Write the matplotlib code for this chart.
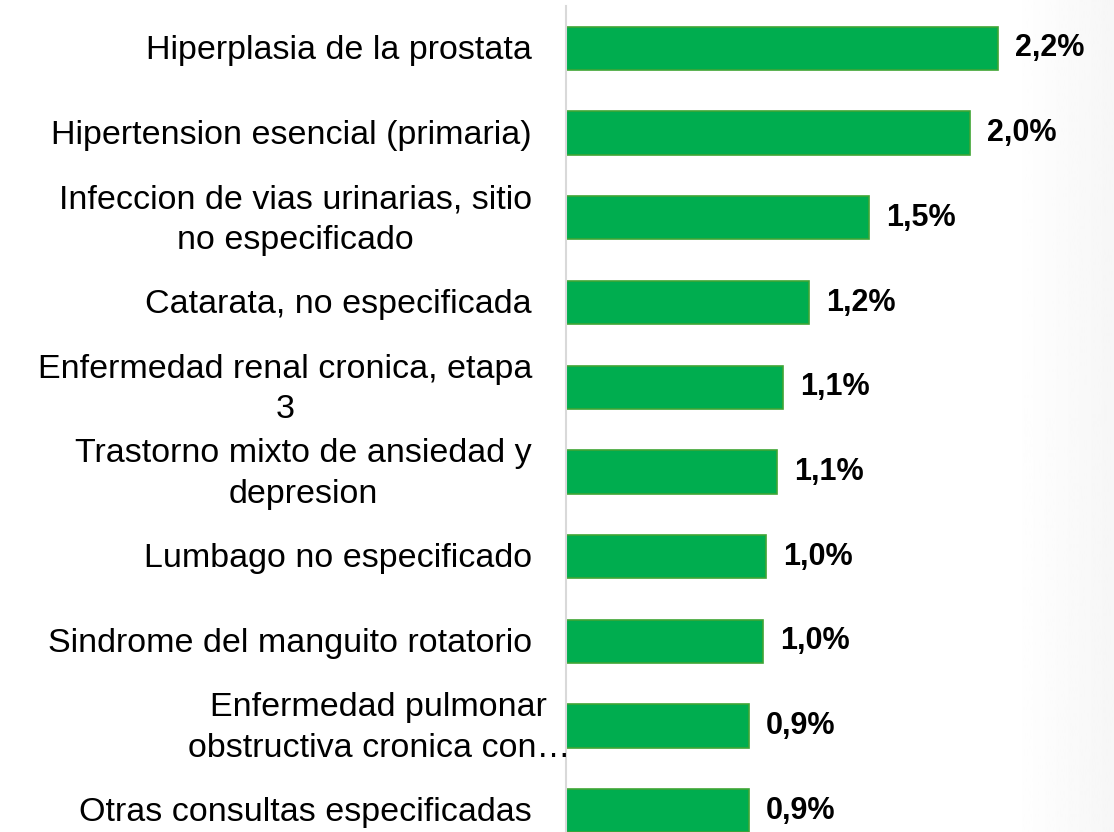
import numpy as np
import matplotlib.pyplot as plt
from matplotlib.transforms import offset_copy

plt.rcParams['font.family'] = ['Liberation Sans', 'DejaVu Sans']

categories = [
    'Hiperplasia de la prostata',
    'Hipertension esencial (primaria)',
    'Infeccion de vias urinarias, sitio\nno especificado',
    'Catarata, no especificada',
    'Enfermedad renal cronica, etapa\n3',
    'Trastorno mixto de ansiedad y\ndepresion',
    'Lumbago no especificado',
    'Sindrome del manguito rotatorio',
    'Enfermedad pulmonar\nobstructiva cronica con\u2026',
    'Otras consultas especificadas',
]
values = [2.16, 2.02, 1.515, 1.215, 1.085, 1.055, 1.0, 0.985, 0.915, 0.915]
value_labels = ['2,2%', '2,0%', '1,5%', '1,2%', '1,1%', '1,1%', '1,0%', '1,0%', '0,9%', '0,9%']

fig = plt.figure(figsize=(11.14, 8.32), dpi=100)

# faint grey fade on the right edge
bg = fig.add_axes([1010 / 1114, 0, 104 / 1114, 1])
grad = np.linspace(1.0, 0.965, 100).reshape(1, -1)
bg.imshow(grad, aspect='auto', cmap='gray', vmin=0, vmax=1, extent=[0, 1, 0, 1])
bg.axis('off')

ax = fig.add_axes([566 / 1114, 0, 548 / 1114, 1 - 6 / 832])
ax.patch.set_alpha(0)

y = np.arange(len(categories))
ax.barh(y, values, height=0.51, color='#00AD4F', edgecolor='#3FA535', linewidth=1.2)

ax.set_xlim(0, 548 / 200)
ax.set_ylim(9.25, -0.5)

for s in ['top', 'right', 'bottom']:
    ax.spines[s].set_visible(False)
ax.spines['left'].set_color('#D9D9D9')
ax.spines['left'].set_linewidth(1.5)
ax.set_xticks([])
ax.set_yticks([])

lab_tr = offset_copy(ax.get_yaxis_transform(), fig=fig, x=-24.5, y=-1.5, units='points')
trunc_tr = offset_copy(ax.get_yaxis_transform(), fig=fig, x=3, y=-1.5, units='points')
for i, c in enumerate(categories):
    tr = trunc_tr if c.endswith('\u2026') else lab_tr
    ax.text(0, i, c, transform=tr, ha='right', va='center', multialignment='center',
            fontsize=24.5, linespacing=1.4, color='black')

for i, (v, t) in enumerate(zip(values, value_labels)):
    ax.annotate(t, (v, i), xytext=(12, 0), textcoords='offset points',
                ha='left', va='center', fontsize=22, fontweight='bold', color='black')

fig.savefig('out.png', dpi=100)
